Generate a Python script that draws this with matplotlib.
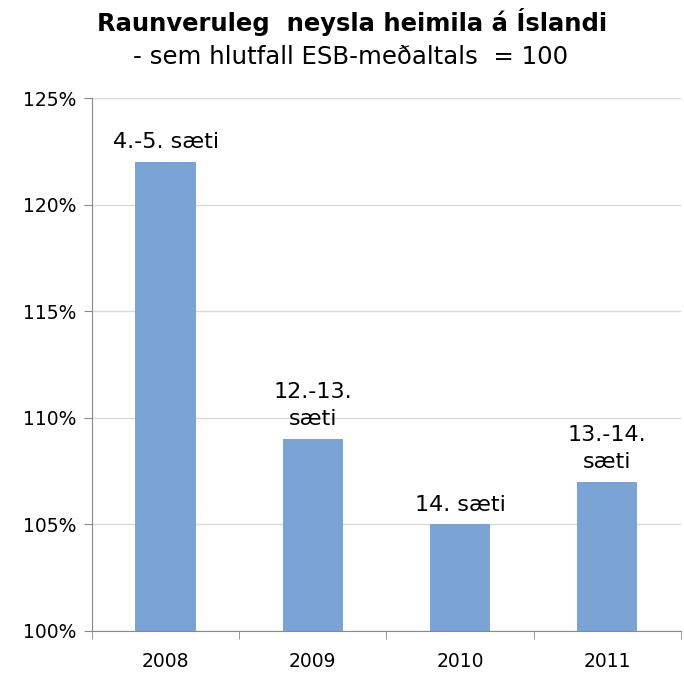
import matplotlib.pyplot as plt
from matplotlib.ticker import FuncFormatter, FixedLocator

plt.rcParams['font.family'] = 'DejaVu Sans'

years = ['2008', '2009', '2010', '2011']
values = [122, 109, 105, 107]
labels = ['4.-5. sæti', '12.-13.\nsæti', '14. sæti', '13.-14.\nsæti']

fig = plt.figure(figsize=(6.84, 6.77), dpi=100)
ax = fig.add_axes([0.1345, 0.068, 0.861, 0.787])

x = range(len(years))
bars = ax.bar(x, values, width=0.41, color='#7ba3d6', zorder=3)
ax.set_xlim(-0.5, 3.5)
ax.set_ylim(100, 125)
ax.set_yticks(range(100, 126, 5))
ax.yaxis.set_major_formatter(FuncFormatter(lambda v, p: '%d%%' % v))
ax.set_xticks(list(x))
ax.set_xticklabels(years, fontsize=13.5)
ax.xaxis.set_minor_locator(FixedLocator([-0.5, 0.5, 1.5, 2.5, 3.5]))
ax.tick_params(axis='x', which='major', length=0, pad=15)
ax.tick_params(axis='x', which='minor', length=6, color='#888888')
ax.tick_params(axis='y', length=6, color='#888888', labelsize=13.5, pad=5)
ax.grid(axis='y', color='#d9d9d9', linewidth=1, zorder=0)
for s in ['top', 'right']:
    ax.spines[s].set_visible(False)
for s in ['left', 'bottom']:
    ax.spines[s].set_color('#888888')

for b, v, lab in zip(bars, values, labels):
    ax.annotate(lab, (b.get_x() + b.get_width() / 2, v), xytext=(0, 7),
                textcoords='offset points', ha='center', va='bottom',
                fontsize=16, linespacing=1.45)

fig.text(0.514, 0.968, 'Raunveruleg  neysla heimila á Íslandi', ha='center',
         va='center', fontsize=17.5, fontweight='bold')
fig.text(0.512, 0.916, '- sem hlutfall ESB-meðaltals  = 100', ha='center',
         va='center', fontsize=17.6)

fig.savefig('out.png', dpi=100)
